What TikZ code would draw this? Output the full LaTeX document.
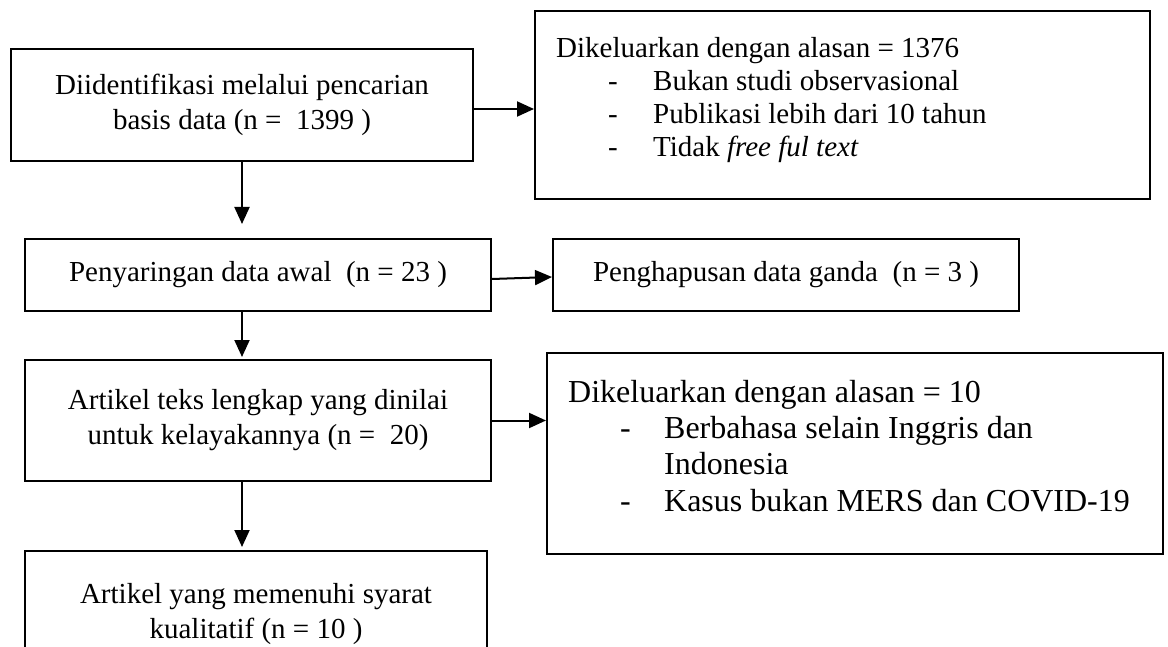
\documentclass[tikz,border=0pt]{standalone}
\usepackage{fontspec}
\setmainfont{Liberation Serif}
\usetikzlibrary{arrows.meta}
\begin{document}
\begin{tikzpicture}[x=1pt,y=-1pt,
  box/.style={draw, line width=2pt, inner sep=0pt, align=center, font=\fontsize{29}{35}\selectfont},
  arr/.style={line width=2pt, -{Triangle[length=17pt,width=15pt]}},
  ltxt/.style={anchor=base west, inner sep=0pt, font=\fontsize{29}{33}\selectfont},
  ftxt/.style={anchor=base west, inner sep=0pt, font=\fontsize{32}{36}\selectfont}]
\useasboundingbox (0,0) rectangle (1168,647);
\clip (0,0) rectangle (1168,647);

% boxes
\node[box, minimum width=462pt, minimum height=112pt] (A) at (242,105)
  {Diidentifikasi melalui pencarian\\basis data (n = ~1399 )};
\node[box, minimum width=615pt, minimum height=188pt] (B) at (842.5,105) {};
\node[box, minimum width=466pt, minimum height=72pt] (C) at (258,275)
  {Penyaringan data awal ~(n = 23 )};
\node[box, minimum width=466pt, minimum height=72pt] (D) at (786,275)
  {Penghapusan data ganda ~(n = 3 )};
\node[box, minimum width=466pt, minimum height=121pt] (E) at (258,420.5)
  {Artikel teks lengkap yang dinilai\\untuk kelayakannya (n = ~20)};
\node[box, minimum width=616pt, minimum height=201pt] (F) at (855,453.5) {};
\node[box, minimum width=462pt, minimum height=127pt] (G) at (256,614.5)
  {Artikel yang memenuhi syarat\\kualitatif (n = 10 )};

% texts of box B
\node[ltxt] (B1) at (556,58) {Dikeluarkan dengan alasan = 1376};
\node[ltxt] (B2) at (608,91) {\makebox[45pt][l]{-}Bukan studi observasional};
\node[ltxt] (B3) at (608,124) {\makebox[45pt][l]{-}Publikasi lebih dari 10 tahun};
\node[ltxt] (B4) at (608,157) {\makebox[45pt][l]{-}Tidak \textit{free ful text}};

% texts of box F
\node[ftxt] (F1) at (568,402) {Dikeluarkan dengan alasan = 10};
\node[ftxt] (F2) at (620,438) {\makebox[44pt][l]{-}Berbahasa selain Inggris dan};
\node[ftxt] (F3) at (664,474) {Indonesia};
\node[ftxt] (F4) at (620,511) {\makebox[44pt][l]{-}Kasus bukan MERS dan COVID-19};

% connectors
\draw[arr] ([yshift=-4pt]A.east) -- ([yshift=-4pt]A.east -| B.west);
\draw[arr] (A.south) -- ([yshift=14pt]A.south |- C.north);
\draw[arr] ([yshift=-4pt]C.east) -- ([yshift=-2pt]D.west);
\draw[arr] (A.south |- C.south) -- ([yshift=2pt]A.south |- E.north);
\draw[arr] (E.east) -- (E.east -| F.west);
\draw[arr] (A.south |- E.south) -- ([yshift=3pt]A.south |- G.north);
\end{tikzpicture}
\end{document}
